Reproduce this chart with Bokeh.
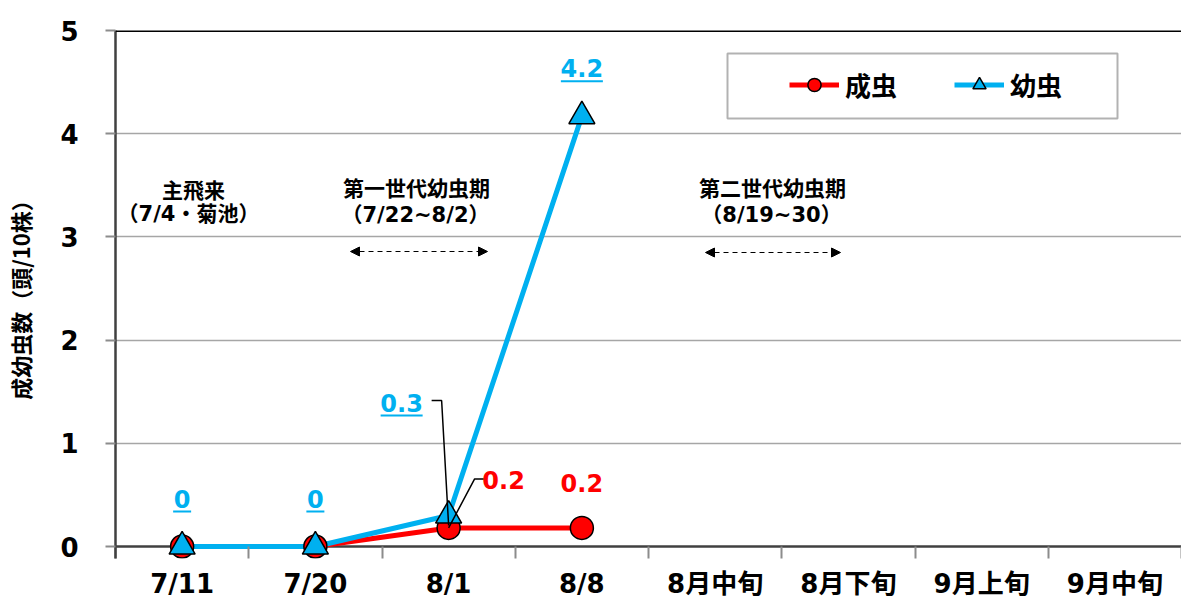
from bokeh.plotting import figure
from bokeh.models import (Range1d, FixedTicker, Span, BoxAnnotation, Legend,
                          LegendItem, Arrow, NormalHead, ColumnDataSource)
from bokeh.core.properties import value
from bokeh.embed import file_html
from bokeh.resources import INLINE

# ---------------- data ----------------
categories = ["7/11", "7/20", "8/1", "8/8", "8月中旬", "8月下旬", "9月上旬", "9月中旬"]
adult = [0, 0, 0.18, 0.18]          # 成虫
larva = [0, 0, 0.3, 4.17]           # 幼虫
series_names = ["成虫", "幼虫"]
y_ticks = [0, 1, 2, 3, 4, 5]
y_label = "成幼虫数（頭/10株）"
note_lines = ["主飛来", "（7/4・菊池）", "第一世代幼虫期", "（7/22~8/2）", "第二世代幼虫期", "（8/19~30）"]

# ---------------- geometry ----------------
W, H = 1181, 603
LEFT, TOP = 115, 30
CAT_PX = 133.25
Y_PX = 103.2
EXTRA = 12                      # px of frame below y=0 so markers are not clipped
FW = W - LEFT
FH = 516 + EXTRA
BOTTOM = H - TOP - FH
X_END = FW / CAT_PX
Y_MAX = y_ticks[-1]
Y_MIN = -EXTRA / Y_PX
PAGE_X0 = LEFT
PAGE_Y0 = TOP + 516             # page y of value 0


def px_x(page_x):
    return (page_x - PAGE_X0) / CAT_PX


def px_y(page_y):
    return (PAGE_Y0 - page_y) / Y_PX


RED = "#FF0000"
BLUE = "#00B0F0"
FONT = "'DejaVu Sans', 'Noto Sans CJK JP', sans-serif"
CJK = "'Noto Sans CJK JP', sans-serif"

xs = [i + 0.5 for i in range(len(categories))]

p = figure(width=W, height=H, x_range=Range1d(0, X_END), y_range=Range1d(Y_MIN, Y_MAX),
           output_backend="svg", toolbar_location=None,
           min_border_left=LEFT, min_border_right=0, min_border_top=TOP,
           min_border_bottom=BOTTOM)
p.outline_line_color = None
p.background_fill_color = "white"
p.border_fill_color = "white"

# x axis (line drawn as a span at y=0, ticks point up from frame bottom)
p.xaxis.ticker = FixedTicker(ticks=xs, minor_ticks=list(range(len(categories) + 1)))
p.xaxis.major_label_overrides = {x: c for x, c in zip(xs, categories)}
p.xaxis.major_tick_out = 0
p.xaxis.major_tick_in = 0
p.xaxis.minor_tick_out = 0
p.xaxis.minor_tick_in = EXTRA
p.xaxis.minor_tick_line_color = "#8c8c8c"
p.xaxis.minor_tick_line_width = 2
p.xaxis.axis_line_alpha = 0
p.xaxis.major_label_text_font = FONT
p.xaxis.major_label_text_font_size = "26px"
p.xaxis.major_label_text_font_style = "bold"
p.xaxis.major_label_text_color = "black"
p.xaxis.major_label_standoff = 10
p.xgrid.visible = False

# y axis
p.yaxis.ticker = FixedTicker(ticks=y_ticks)
p.yaxis.major_tick_out = 10
p.yaxis.major_tick_in = 0
p.yaxis.major_tick_line_color = "#8c8c8c"
p.yaxis.major_tick_line_width = 2
p.yaxis.minor_tick_out = 0
p.yaxis.minor_tick_in = 0
p.yaxis.axis_line_color = "#404040"
p.yaxis.axis_line_width = 2.5
p.yaxis.major_label_text_font = FONT
p.yaxis.major_label_text_font_size = "26px"
p.yaxis.major_label_text_font_style = "bold"
p.yaxis.major_label_text_color = "black"
p.yaxis.major_label_standoff = 27
p.yaxis.axis_label = y_label
p.yaxis.axis_label_text_font = CJK
p.yaxis.axis_label_text_font_size = "22px"
p.yaxis.axis_label_text_font_style = "bold"
p.yaxis.axis_label_text_color = "black"
p.yaxis.axis_label_standoff = 21
p.ygrid.ticker = FixedTicker(ticks=y_ticks[1:-1])
p.ygrid.grid_line_color = "#a6a6a6"
p.ygrid.grid_line_width = 1.5

p.add_layout(Span(location=y_ticks[0], dimension="width", line_color="#404040",
                  line_width=2.5, level="underlay"))
p.add_layout(Span(location=y_ticks[-1], dimension="width", line_color="black", line_width=3))


def label_text(v):
    return "0" if v == 0 else f"{v:.1f}"


# sources
src_a = ColumnDataSource(dict(x=xs[:len(adult)], y=adult))
src_l = ColumnDataSource(dict(x=xs[:len(larva)], y=larva))

r_line_a = p.line("x", "y", source=src_a, line_color=RED, line_width=5)
r_line_l = p.line("x", "y", source=src_l, line_color=BLUE, line_width=5)
r_circ = p.scatter("x", "y", source=src_a, marker="circle", size=23,
                   fill_color=RED, line_color="black", line_width=1.5)
r_tri = p.scatter("x", "y", source=src_l, marker="triangle", size=26,
                  fill_color=BLUE, line_color="black", line_width=1.5)

# data label placement (screen px offsets, +y = down)
larva_off = [(0, -48), (0, -48), (-47, -113), (0, -48)]
adult_off = [None, None, (55, -48), (0, -45)]
larva_leader = {2: [(-17, -115), (-7, -115), (0, 10)]}
adult_leader = {2: [(35, -49), (26, -49), (0, 0)]}

lab_l = dict(x=[], y=[], text=[], ox=[], oy=[])
ul = dict(x0=[], x1=[], y=[])
for i, v in enumerate(larva):
    ox, oy = larva_off[i]
    t = label_text(v)
    lab_l["x"].append(xs[i]); lab_l["y"].append(v); lab_l["text"].append(t)
    lab_l["ox"].append(ox); lab_l["oy"].append(oy)
    w = 6 + 12 * len(t)
    ul["x0"].append(xs[i] + (ox - w / 2) / CAT_PX)
    ul["x1"].append(xs[i] + (ox + w / 2) / CAT_PX)
    ul["y"].append(v - (oy + 13) / Y_PX)

lab_a = dict(x=[], y=[], text=[], ox=[], oy=[])
for i, v in enumerate(adult):
    if adult_off[i] is None:
        continue
    ox, oy = adult_off[i]
    lab_a["x"].append(xs[i]); lab_a["y"].append(v); lab_a["text"].append(label_text(v))
    lab_a["ox"].append(ox); lab_a["oy"].append(oy)

lead = dict(xs=[], ys=[])
for series, leaders in ((larva, larva_leader), (adult, adult_leader)):
    for i, pts in leaders.items():
        lead["xs"].append([xs[i] + a / CAT_PX for a, b in pts])
        lead["ys"].append([series[i] - b / Y_PX for a, b in pts])

p.multi_line("xs", "ys", source=ColumnDataSource(lead), line_color="black", line_width=1.5)
p.segment("x0", "y", "x1", "y", source=ColumnDataSource(ul), line_color=BLUE, line_width=2)
p.text("x", "y", text="text", x_offset="ox", y_offset="oy", source=ColumnDataSource(lab_l),
       text_color=BLUE, text_font=value(FONT), text_font_size="24px", text_font_style="bold",
       text_align="center", text_baseline="middle")
p.text("x", "y", text="text", x_offset="ox", y_offset="oy", source=ColumnDataSource(lab_a),
       text_color=RED, text_font=value(FONT), text_font_size="24px", text_font_style="bold",
       text_align="center", text_baseline="middle")

# period notes
note_pos = [(193, 190), (188, 213), (416, 188), (415, 214), (772, 188), (771, 214)]
p.text([px_x(a) for a, b in note_pos], [px_y(b) for a, b in note_pos], text=note_lines,
       text_color="black", text_font=value(FONT), text_font_size="21px", text_font_style="bold",
       text_align="center", text_baseline="middle")

for x0, x1, yy in [(350, 487, 251), (705, 840, 252)]:
    p.add_layout(Arrow(start=NormalHead(size=9, fill_color="black", line_color="black"),
                       end=NormalHead(size=9, fill_color="black", line_color="black"),
                       x_start=px_x(x0), y_start=px_y(yy), x_end=px_x(x1), y_end=px_y(yy),
                       line_color="black", line_width=1.2, line_dash="5 4"))

# legend
p.add_layout(BoxAnnotation(left=px_x(727), right=px_x(1117), top=px_y(53), bottom=px_y(118),
                           fill_color="white", fill_alpha=1, line_color="black", line_width=2))
legend = Legend(items=[LegendItem(label=series_names[0], renderers=[r_line_a, r_circ]),
                       LegendItem(label=series_names[1], renderers=[r_line_l, r_tri])],
                location=(789 - PAGE_X0, (TOP + FH) - 103), orientation="horizontal",
                glyph_width=50, glyph_height=33, label_standoff=6, spacing=57,
                padding=0, margin=0, border_line_color=None, background_fill_alpha=0,
                label_text_font=CJK, label_text_font_size="26px",
                label_text_font_style="bold", label_text_color="black")
p.add_layout(legend)

open("out.html", "w", encoding="utf-8").write(file_html(p, INLINE))
